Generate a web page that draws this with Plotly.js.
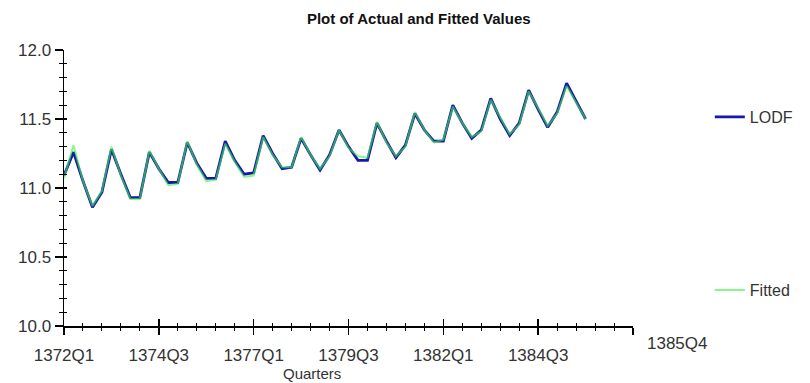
<!DOCTYPE html>
<html>
<head>
<meta charset="utf-8">
<script src="https://cdn.plot.ly/plotly-3.0.1.min.js"></script>
<style>html,body{margin:0;padding:0;background:#fff;}#chart{width:810px;height:383px;}</style>
</head>
<body>
<div id="chart"></div>
<script>
// Quarterly periods 1372Q1 .. 1385Q4
var quarters = [
  "1372Q1","1372Q2","1372Q3","1372Q4","1373Q1","1373Q2","1373Q3","1373Q4",
  "1374Q1","1374Q2","1374Q3","1374Q4","1375Q1","1375Q2","1375Q3","1375Q4",
  "1376Q1","1376Q2","1376Q3","1376Q4","1377Q1","1377Q2","1377Q3","1377Q4",
  "1378Q1","1378Q2","1378Q3","1378Q4","1379Q1","1379Q2","1379Q3","1379Q4",
  "1380Q1","1380Q2","1380Q3","1380Q4","1381Q1","1381Q2","1381Q3","1381Q4",
  "1382Q1","1382Q2","1382Q3","1382Q4","1383Q1","1383Q2","1383Q3","1383Q4",
  "1384Q1","1384Q2","1384Q3","1384Q4","1385Q1","1385Q2","1385Q3","1385Q4"
];
var lodf = [
  11.09,11.26,11.05,10.86, 10.97,11.28,11.10,10.93,
  10.93,11.26,11.14,11.04, 11.04,11.33,11.18,11.07,
  11.07,11.34,11.20,11.10, 11.11,11.38,11.25,11.14,
  11.15,11.36,11.24,11.13, 11.24,11.42,11.30,11.20,
  11.20,11.47,11.34,11.22, 11.31,11.54,11.42,11.34,
  11.34,11.60,11.47,11.36, 11.42,11.65,11.50,11.38,
  11.47,11.71,11.57,11.44, 11.55,11.76,11.63,11.50
];
var fitted = [
  11.07,11.31,11.05,10.87, 10.98,11.30,11.09,10.92,
  10.92,11.27,11.14,11.02, 11.03,11.34,11.17,11.05,
  11.06,11.32,11.19,11.08, 11.09,11.37,11.24,11.15,
  11.15,11.37,11.24,11.14, 11.23,11.42,11.29,11.23,
  11.22,11.48,11.33,11.23, 11.30,11.55,11.42,11.33,
  11.35,11.59,11.47,11.37, 11.41,11.64,11.51,11.39,
  11.46,11.70,11.58,11.45, 11.54,11.74,11.62,11.50
];
var xTickLabels = ["1372Q1","1374Q3","1377Q1","1379Q3","1382Q1","1384Q3"];
var yTickValues = [10.0, 10.5, 11.0, 11.5, 12.0];
var seriesNames = ["LODF", "Fitted"];
var chartTitle = "Plot of Actual and Fitted Values";
var xTitle = "Quarters";
var endLabel = "1385Q4";

var idx = quarters.map(function(q, i){ return i; });
var xTickVals = xTickLabels.map(function(l){ return quarters.indexOf(l); });
xTickVals.push(60);
var xTickText = xTickLabels.slice(); xTickText.push("");

var txtColor = "#333";
var ff = "Liberation Sans, Arial, sans-serif";
var font = {family: ff, size: 17, color: txtColor};

var traces = [
  {x: idx, y: lodf, type: "scatter", mode: "lines", name: seriesNames[0],
   line: {color: "#1616b0", width: 2.8}, legend: "legend"},
  {x: idx, y: fitted, type: "scatter", mode: "lines", name: seriesNames[1],
   line: {color: "#40f040", width: 2}, opacity: 0.62, legend: "legend2"},
  {x: [], y: [], xaxis: "x2", yaxis: "y2", showlegend: false, hoverinfo: "skip", type: "scatter"}
];

var layout = {
  width: 810, height: 383,
  margin: {l: 64, r: 170, t: 50, b: 57},
  paper_bgcolor: "#fff", plot_bgcolor: "#fff",
  font: font,
  title: {text: "<b>" + chartTitle + "</b>", x: 0.517, xref: "container", xanchor: "center",
          y: 0.95, yref: "container", yanchor: "middle",
          font: {family: ff, size: 15, color: "#111"}},
  xaxis: {range: [0, 60], tickmode: "array", tickvals: xTickVals, ticktext: xTickText,
          showgrid: false, zeroline: false, showline: true, linecolor: "#000", linewidth: 1.5,
          ticks: "outside", ticklen: 7, tickwidth: 1.5, tickcolor: "#000",
          ticklabelstandoff: 6,
          minor: {tickmode: "linear", tick0: 0, dtick: 2, ticks: "outside", ticklen: 3, tickwidth: 1, tickcolor: "#000", showgrid: false},
          tickfont: font, fixedrange: true},
  yaxis: {range: [10, 12], tickmode: "array", tickvals: yTickValues,
          ticktext: yTickValues.map(function(v){ return v.toFixed(1); }),
          showgrid: false, zeroline: false, showline: true, linecolor: "#000", linewidth: 1.5,
          ticks: "outside", ticklen: 8, tickwidth: 1.5, tickcolor: "#000",
          minor: {tickmode: "linear", tick0: 10, dtick: 0.1, ticks: "outside", ticklen: 4, tickwidth: 1, tickcolor: "#000", showgrid: false},
          tickfont: font, fixedrange: true},
  xaxis2: {overlaying: "x", anchor: "y", side: "bottom", range: [0, 60], tickmode: "array",
           tickvals: xTickVals, showticklabels: false, showgrid: false, zeroline: false, showline: false,
           ticks: "inside", ticklen: 7, tickwidth: 1.5, tickcolor: "#000",
           minor: {tickmode: "linear", tick0: 0, dtick: 2, ticks: "inside", ticklen: 3, tickwidth: 1, tickcolor: "#000", showgrid: false}},
  yaxis2: {overlaying: "y", anchor: "x", side: "left", range: [10, 12], tickmode: "array",
           tickvals: yTickValues, showticklabels: false, showgrid: false, zeroline: false, showline: false,
           ticks: "inside", ticklen: 3, tickwidth: 1.5, tickcolor: "#000",
           minor: {tickmode: "linear", tick0: 10, dtick: 0.1, ticks: "inside", ticklen: 3, tickwidth: 1, tickcolor: "#000", showgrid: false}},
  legend: {x: 1.135, xanchor: "left", y: 0.757, yanchor: "middle", bgcolor: "rgba(0,0,0,0)", itemwidth: 30,
           font: {family: ff, size: 16, color: txtColor}},
  legend2: {x: 1.135, xanchor: "left", y: 0.13, yanchor: "middle", bgcolor: "rgba(0,0,0,0)", itemwidth: 30,
           font: {family: ff, size: 16, color: txtColor}},
  annotations: [
    {text: xTitle, xref: "paper", yref: "paper", x: (315 - 64) / 576, y: -(373 - 326) / 276, xanchor: "center", yanchor: "middle",
     showarrow: false, font: {family: ff, size: 15, color: txtColor}},
    {text: endLabel, xref: "paper", yref: "paper", x: (685 - 64) / 576, y: -(343 - 326) / 276, xanchor: "center", yanchor: "middle",
     showarrow: false, font: {family: ff, size: 17, color: txtColor}}
  ],
  showlegend: true
};

Plotly.newPlot("chart", traces, layout, {displayModeBar: false, staticPlot: true});
</script>
</body>
</html>
